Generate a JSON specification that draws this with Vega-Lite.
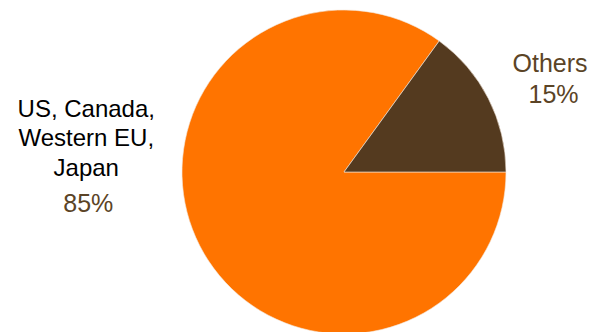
{
  "$schema": "https://vega.github.io/schema/vega-lite/v6.json",
  "autosize": "none",
  "width": 500,
  "height": 320,
  "padding": {"left": 94, "top": 12, "right": 0, "bottom": 0},
  "background": "white",
  "config": {"view": {"stroke": null}, "text": {"font": "Liberation Sans"}},
  "data": {
    "values": [
      {"region": "US, Canada,\nWestern EU,\nJapan", "share": 85, "pct": "85%"},
      {"region": "Others", "share": 15, "pct": "15%"}
    ]
  },
  "encoding": {
    "theta": {"field": "share", "type": "quantitative", "stack": true, "scale": {"range": [0.6283, 6.9115]}},
    "order": {"field": "share", "type": "quantitative", "sort": "ascending"}
  },
  "layer": [
    {
      "mark": {"type": "arc", "radius": 162, "stroke": "#f4e8dc", "strokeWidth": 0.6},
      "encoding": {
        "color": {
          "field": "region", "type": "nominal", "legend": null,
          "scale": {"domain": ["Others", "US, Canada,\nWestern EU,\nJapan"], "range": ["#543A1F", "#FF7400"]}
        }
      }
    },
    {
      "mark": {"type": "text", "radius": 250, "dx": -35, "dy": -168.5, "align": "center", "baseline": "alphabetic", "fontSize": 24, "lineHeight": 29.5, "lineBreak": "\n", "color": "#000000"},
      "encoding": {
        "text": {"condition": {"test": "datum.region !== 'Others'", "field": "region"}, "value": ""}
      }
    },
    {
      "mark": {"type": "text", "radius": 250, "dx": -33, "dy": -73.5, "align": "center", "baseline": "alphabetic", "fontSize": 25, "color": "#5B4426"},
      "encoding": {
        "text": {"condition": {"test": "datum.region !== 'Others'", "field": "pct"}, "value": ""}
      }
    },
    {
      "mark": {"type": "text", "radius": 220, "dx": 10, "dy": 0, "align": "center", "baseline": "alphabetic", "fontSize": 25, "color": "#5B4426"},
      "encoding": {
        "text": {"condition": {"test": "datum.region === 'Others'", "field": "region"}, "value": ""}
      }
    },
    {
      "mark": {"type": "text", "radius": 220, "dx": 13.5, "dy": 31, "align": "center", "baseline": "alphabetic", "fontSize": 25, "color": "#5B4426"},
      "encoding": {
        "text": {"condition": {"test": "datum.region === 'Others'", "field": "pct"}, "value": ""}
      }
    }
  ]
}
